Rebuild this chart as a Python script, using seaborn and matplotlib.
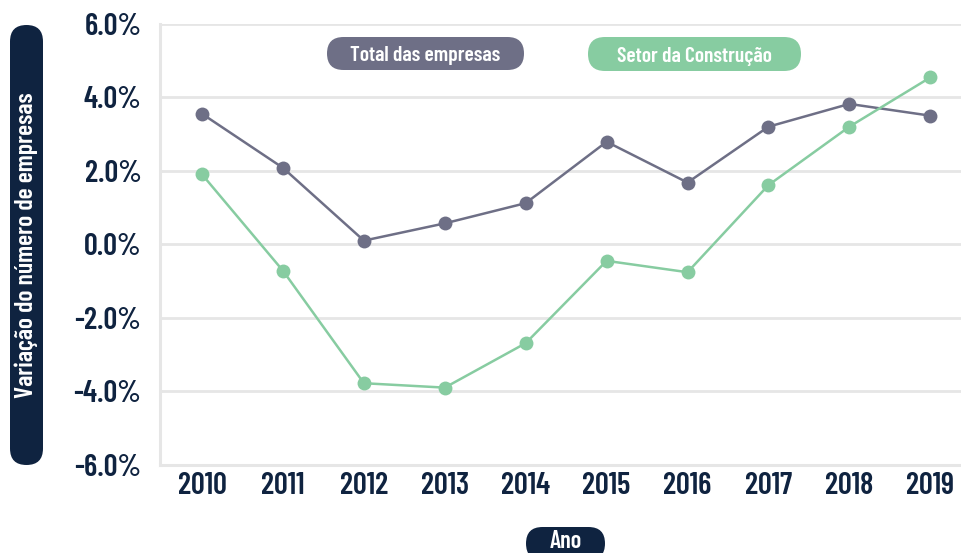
import matplotlib
matplotlib.use("Agg")
import matplotlib.pyplot as plt
from matplotlib.patches import FancyBboxPatch
from matplotlib.ticker import FuncFormatter
import seaborn as sns
import pandas as pd
import logging
logging.getLogger("matplotlib.font_manager").setLevel(logging.ERROR)

years = [2010, 2011, 2012, 2013, 2014, 2015, 2016, 2017, 2018, 2019]
total_empresas = [3.55, 2.08, 0.10, 0.57, 1.12, 2.79, 1.68, 3.20, 3.82, 3.50]
setor_construcao = [1.90, -0.72, -3.78, -3.90, -2.69, -0.45, -0.76, 1.61, 3.20, 4.54]
series_names = ["Total das empresas", "Setor da Construção"]
y_ticks = [-6, -4, -2, 0, 2, 4, 6]

GREY = "#6e6f86"
GREEN = "#87cca1"
NAVY = "#0f2340"
LIGHT = "#e6e6e6"

sns.set_theme(style="white")
plt.rcParams["font.family"] = ["Barlow Condensed", "Roboto Condensed", "DejaVu Sans"]

df = pd.DataFrame({
    "Ano": years * 2,
    "valor": total_empresas + setor_construcao,
    "serie": [series_names[0]] * len(years) + [series_names[1]] * len(years),
})

fig = plt.figure(figsize=(9.61, 5.53), dpi=100)
ax = fig.add_axes([160 / 961, (553 - 464.8) / 553, (961 - 160) / 961, (464.8 - 23.8) / 553])

sns.lineplot(data=df, x="Ano", y="valor", hue="serie",
             palette={series_names[0]: GREY, series_names[1]: GREEN},
             marker="o", markersize=10, markeredgewidth=0, linewidth=1.8,
             legend=False, ax=ax, zorder=3)

ax.set_xlim(2009.48, 2019.38)
ax.set_ylim(-6, 6)
ax.set_xticks(years)
ax.set_yticks(y_ticks)
ax.yaxis.set_major_formatter(FuncFormatter(lambda v, p: f"{v:.1f}%"))
ax.grid(axis="y", color=LIGHT, linewidth=2, zorder=0)
ax.grid(axis="x", visible=False)
ax.set_xlabel("")
ax.set_ylabel("")
for s in ["top", "right"]:
    ax.spines[s].set_visible(False)
for s in ["left", "bottom"]:
    ax.spines[s].set_color(LIGHT)
    ax.spines[s].set_linewidth(2.2)

ax.tick_params(axis="y", length=6.5, width=2, color=LIGHT, pad=7,
               labelsize=22, labelcolor=NAVY)
ax.tick_params(axis="x", length=0, pad=5, labelsize=22, labelcolor=NAVY)
for t, v in zip(ax.yaxis.get_major_ticks(), y_ticks):
    if v in (-6, 0, 6):
        t.tick1line.set_visible(False)
for lab in ax.get_xticklabels() + ax.get_yticklabels():
    lab.set_fontweight(600)

tr = fig.dpi_scale_trans

def pill(x0, y_top, w, h, color, text, fs, rot=0, text_y=None, va=None):
    y0 = (553 - y_top - h) / 100
    p = FancyBboxPatch((x0 / 100, y0), w / 100, h / 100,
                       boxstyle=f"round,pad=0,rounding_size={min(w, h) / 200}",
                       transform=tr, facecolor=color, edgecolor="none",
                       clip_on=False, zorder=5)
    fig.patches.append(p)
    ty = (553 - text_y) / 553 if text_y is not None else (y0 * 100 + h / 2) / 553
    if va is None:
        va = "center" if rot else "center_baseline"
    fig.text((x0 + w / 2) / 961, ty, text, color="white",
             fontsize=fs, fontweight=600, ha="center", va=va,
             rotation=rot, zorder=6)

pill(327, 37, 197, 33, GREY, series_names[0], 15.5)
pill(588, 37, 213, 34, GREEN, series_names[1], 15.5)
pill(10, 25, 33, 440, NAVY, "Variação do número de empresas", 18.5, rot=90)
pill(526, 527, 79, 33, NAVY, "Ano", 17.5, text_y=548, va="baseline")

fig.savefig("out.png", dpi=100)
